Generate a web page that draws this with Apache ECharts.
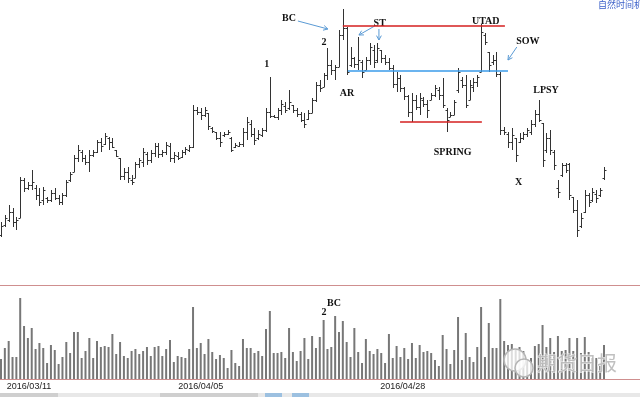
<!DOCTYPE html>
<html>
<head>
<meta charset="utf-8">
<script src="https://cdn.jsdelivr.net/npm/echarts@6/dist/echarts.min.js"></script>
<style>
html, body { margin: 0; padding: 0; background: #fff; }
#chart { width: 640px; height: 397px; }
</style>
</head>
<body>
<div id="chart"></div>
<script>
// price bars (one entry per bar, index = bar number)
var opens = [
  15, 25, 30, 38, 28, 32, 70, 62, 65, 62,
  55, 50, 52, 50, 57, 52, 48, 55, 70, 78,
  92, 98, 92, 88, 95, 98, 108, 106, 112, 108,
  100, 92, 74, 78, 70, 72, 86, 88, 96, 90,
  97, 104, 96, 98, 104, 92, 94, 93, 98, 100,
  103, 140, 138, 135, 137, 122, 118, 112, 115, 116,
  112, 103, 104, 106, 118, 126, 116, 112, 115, 120,
  138, 134, 133, 140, 144, 142, 145, 140, 136, 130,
  131, 137, 150, 165, 163, 175, 185, 180, 183, 215,
  222, 185, 192, 186, 188, 180, 190, 200, 190, 200,
  192, 188, 182, 166, 172, 162, 154, 138, 150, 143,
  150, 146, 150, 155, 160, 155, 140, 133, 135, 160,
  170, 165, 150, 163, 168, 178, 215, 198, 188, 190,
  176, 120, 116, 108, 112, 108, 112, 116, 118, 126,
  136, 127, 100, 112, 98, 62, 75, 85, 86, 53,
  40, 24, 38, 55, 50, 56, 55, 72
];
var highs = [
  28, 35, 45, 42, 33, 73, 72, 68, 80, 65,
  62, 63, 53, 60, 62, 55, 57, 70, 78, 95,
  105, 100, 95, 100, 100, 110, 112, 117, 113, 112,
  100, 92, 82, 83, 75, 88, 92, 102, 98, 100,
  107, 107, 100, 108, 107, 98, 98, 100, 103, 105,
  145, 143, 142, 143, 137, 123, 118, 118, 118, 120,
  113, 107, 108, 122, 133, 130, 122, 120, 122, 142,
  173, 135, 142, 150, 148, 160, 145, 142, 138, 137,
  140, 152, 168, 170, 177, 202, 190, 185, 220, 241,
  223, 203, 193, 213, 190, 193, 207, 205, 207, 200,
  195, 192, 185, 178, 175, 163, 155, 157, 155, 157,
  153, 150, 157, 165, 163, 172, 142, 138, 150, 182,
  173, 175, 170, 172, 175, 226, 217, 198, 195, 198,
  178, 123, 118, 122, 112, 117, 118, 122, 130, 140,
  150, 127, 117, 120, 100, 70, 87, 87, 87, 53,
  50, 37, 60, 57, 62, 60, 62, 83
];
var lows = [
  13, 23, 28, 23, 20, 32, 58, 60, 60, 50,
  44, 45, 47, 48, 50, 45, 45, 53, 68, 78,
  88, 88, 85, 78, 93, 97, 98, 105, 100, 102,
  93, 70, 70, 67, 65, 72, 82, 83, 85, 87,
  93, 92, 93, 95, 88, 87, 90, 92, 95, 98,
  102, 135, 130, 133, 120, 117, 110, 103, 113, 115,
  98, 102, 103, 103, 110, 113, 105, 110, 113, 118,
  132, 132, 130, 135, 137, 140, 137, 133, 128, 122,
  130, 137, 148, 158, 163, 170, 175, 170, 183, 210,
  175, 183, 182, 180, 172, 180, 185, 182, 187, 187,
  185, 180, 162, 158, 158, 150, 133, 128, 140, 135,
  143, 132, 150, 153, 150, 142, 118, 133, 135, 157,
  162, 142, 150, 158, 163, 178, 205, 178, 185, 173,
  115, 115, 102, 100, 88, 107, 110, 113, 115, 123,
  128, 83, 97, 95, 80, 52, 73, 77, 50, 37,
  13, 22, 37, 43, 48, 47, 53, 70
];
var closes = [
  24, 32, 38, 28, 30, 70, 62, 65, 68, 55,
  48, 60, 50, 57, 52, 48, 55, 68, 76, 92,
  100, 92, 88, 95, 98, 108, 104, 114, 108, 103,
  94, 74, 78, 72, 68, 86, 90, 98, 90, 97,
  104, 96, 98, 105, 92, 95, 92, 98, 101, 103,
  140, 138, 135, 140, 124, 119, 112, 108, 116, 118,
  100, 105, 106, 118, 128, 116, 110, 116, 120, 138,
  134, 133, 140, 146, 140, 148, 140, 136, 130, 126,
  137, 150, 165, 162, 175, 185, 180, 183, 215, 222,
  178, 192, 186, 190, 178, 190, 203, 188, 202, 192,
  188, 182, 166, 172, 162, 154, 138, 150, 143, 152,
  146, 140, 155, 162, 155, 145, 130, 135, 148, 178,
  165, 145, 165, 168, 173, 218, 208, 185, 190, 176,
  120, 118, 108, 115, 95, 112, 116, 120, 126, 136,
  130, 90, 112, 100, 85, 58, 85, 80, 55, 40,
  20, 32, 55, 48, 58, 52, 60, 80
];
var volumes = [
  20, 31, 38, 22, 22, 81, 53, 41, 51, 30,
  36, 31, 16, 34, 29, 15, 22, 37, 26, 47,
  47, 21, 28, 41, 21, 38, 32, 33, 32, 45,
  25, 37, 23, 21, 28, 30, 25, 28, 32, 23,
  32, 33, 23, 30, 39, 17, 23, 22, 21, 30,
  72, 31, 36, 25, 40, 27, 20, 24, 21, 11,
  29, 16, 13, 40, 31, 31, 26, 28, 23, 50,
  68, 26, 26, 27, 21, 51, 27, 18, 28, 41,
  20, 43, 31, 42, 59, 30, 32, 63, 47, 58,
  37, 22, 51, 27, 16, 40, 28, 25, 30, 26,
  16, 45, 21, 33, 22, 31, 20, 36, 21, 34,
  27, 28, 26, 19, 13, 44, 30, 15, 29, 62,
  19, 46, 22, 17, 32, 72, 22, 56, 31, 31,
  80, 38, 34, 35, 29, 32, 28, 20, 21, 33,
  35, 54, 32, 41, 27, 43, 28, 29, 41, 28,
  41, 26, 42, 27, 21, 21, 13, 34
];
var dateTicks = [7.3, 52, 104.6];
var dateLabels = ['2016/03/11', '2016/04/05', '2016/04/28'];

// wyckoff notes: [bar, price, text]
var notes = [
  [75.0, 232, 'BC'],
  [69.2, 186, '1'],
  [84.1, 208, '2'],
  [90.1, 157, 'AR'],
  [98.6, 227, 'ST'],
  [126.2, 229, 'UTAD'],
  [137.2, 209, 'SOW'],
  [141.9, 160, 'LPSY'],
  [117.6, 98, 'SPRING'],
  [134.8, 68, 'X']
];
var volNotes = [
  [84.1, 67, '2'],
  [86.7, 76, 'BC']
];
// levels: [fromBar, toBar, price, colour, width]
var levels = [
  [89.0, 131.2, 224, '#d41f1f', 1.6],
  [90.3, 132.0, 179, '#3a9bea', 1.4],
  [103.9, 125.2, 128, '#d41f1f', 1.6]
];
// arrows: [fromBar, fromPrice, toBar, toPrice]
var arrows = [
  [77.3, 229, 85.1, 221],
  [97.3, 224, 93.2, 215],
  [98.4, 221, 98.4, 210],
  [134.3, 203, 132.0, 190]
];

var ohlcData = opens.map(function (o, i) {
  return [i, o, highs[i], lows[i], closes[i]];
});
var volData = volumes.map(function (v, i) { return [i, v]; });

var noteFont = 'bold 10px "Liberation Serif", "DejaVu Serif", serif';

function renderOhlc(params, api) {
  var i = api.value(0);
  var o = api.coord([i, api.value(1)]);
  var h = api.coord([i, api.value(2)]);
  var l = api.coord([i, api.value(3)]);
  var c = api.coord([i, api.value(4)]);
  var x = Math.round(o[0]) + 0.5;
  var st = { stroke: '#333', lineWidth: 1 };
  var yo = Math.round(o[1]) + 0.5, yc = Math.round(c[1]) + 0.5;
  return {
    type: 'group',
    children: [
      { type: 'line', shape: { x1: x, y1: Math.round(h[1]), x2: x, y2: Math.round(l[1]) }, style: st },
      { type: 'line', shape: { x1: x - 2, y1: yo, x2: x, y2: yo }, style: st },
      { type: 'line', shape: { x1: x, y1: yc, x2: x + 2, y2: yc }, style: st }
    ]
  };
}

function renderNote(list) {
  return function (params, api) {
    var p = api.coord([api.value(0), api.value(1)]);
    return {
      type: 'text', x: p[0], y: p[1],
      style: { text: list[params.dataIndex][2], fill: '#111', font: noteFont, align: 'center', verticalAlign: 'middle' }
    };
  };
}

function renderLevel(params, api) {
  var a = api.coord([api.value(0), api.value(2)]);
  var b = api.coord([api.value(1), api.value(2)]);
  var lv = levels[params.dataIndex];
  var y = Math.round(a[1]);
  return {
    type: 'line',
    shape: { x1: a[0], y1: y, x2: b[0], y2: y },
    style: { stroke: lv[3], lineWidth: lv[4] },
    z2: 10
  };
}

function renderArrow(params, api) {
  var a = api.coord([api.value(0), api.value(1)]);
  var b = api.coord([api.value(2), api.value(3)]);
  var ang = Math.atan2(b[1] - a[1], b[0] - a[0]);
  var s = 5;
  var p1 = [b[0] - s * Math.cos(ang - 0.5), b[1] - s * Math.sin(ang - 0.5)];
  var p2 = [b[0] - s * Math.cos(ang + 0.5), b[1] - s * Math.sin(ang + 0.5)];
  var st = { stroke: '#5b9bd5', lineWidth: 1, fill: null };
  return {
    type: 'group',
    children: [
      { type: 'line', shape: { x1: a[0], y1: a[1], x2: b[0], y2: b[1] }, style: st },
      { type: 'polyline', shape: { points: [p1, b, p2] }, style: st }
    ]
  };
}

var chart = echarts.init(document.getElementById('chart'));
chart.setOption({
  animation: false,
  backgroundColor: '#fff',
  grid: [
    { left: 1, width: 603, top: 0, height: 250 },
    { left: 1, width: 603, top: 285, height: 94 }
  ],
  xAxis: [
    { type: 'value', gridIndex: 0, min: 0, max: 157, show: false },
    {
      type: 'value', gridIndex: 1, min: 0, max: 157,
      axisLine: { show: false }, axisTick: { show: false }, splitLine: { show: false },
      axisLabel: {
        customValues: dateTicks,
        margin: 3,
        color: '#222',
        fontSize: 9,
        fontFamily: '"Liberation Sans", Arial, sans-serif',
        formatter: function (v) {
          var k = dateTicks.indexOf(v);
          return k >= 0 ? dateLabels[k] : '';
        }
      }
    }
  ],
  yAxis: [
    { type: 'value', gridIndex: 0, min: 0, max: 250, show: false },
    { type: 'value', gridIndex: 1, min: 0, max: 94, show: false }
  ],
  series: [
    { type: 'custom', xAxisIndex: 0, yAxisIndex: 0, renderItem: renderOhlc, data: ohlcData, silent: true },
    { type: 'custom', xAxisIndex: 0, yAxisIndex: 0, renderItem: renderLevel, data: levels.map(function (l) { return [l[0], l[1], l[2]]; }), silent: true, z: 4 },
    { type: 'custom', xAxisIndex: 0, yAxisIndex: 0, renderItem: renderArrow, data: arrows, silent: true },
    { type: 'custom', xAxisIndex: 0, yAxisIndex: 0, renderItem: renderNote(notes), data: notes.map(function (n) { return [n[0], n[1]]; }), silent: true },
    {
      type: 'bar', xAxisIndex: 1, yAxisIndex: 1, data: volData, barWidth: 2,
      itemStyle: { color: '#777' }, silent: true
    },
    { type: 'custom', xAxisIndex: 1, yAxisIndex: 1, renderItem: renderNote(volNotes), data: volNotes.map(function (n) { return [n[0], n[1]]; }), silent: true, z: 5 }
  ],
  graphic: [
    { type: 'line', shape: { x1: 0, y1: 285.5, x2: 640, y2: 285.5 }, style: { stroke: '#cf8f8f', lineWidth: 1 }, z: 10 },
    { type: 'line', shape: { x1: 0, y1: 379.5, x2: 640, y2: 379.5 }, style: { stroke: '#cf8f8f', lineWidth: 1 }, z: 10 },
    { type: 'rect', shape: { x: 0, y: 393, width: 640, height: 4 }, style: { fill: '#e8e8e8' }, z: 10 },
    { type: 'rect', shape: { x: 0, y: 393, width: 58, height: 4 }, style: { fill: '#cfcfcf' }, z: 11 },
    { type: 'rect', shape: { x: 160, y: 393, width: 98, height: 4 }, style: { fill: '#cfcfcf' }, z: 11 },
    { type: 'rect', shape: { x: 265, y: 393, width: 17, height: 4 }, style: { fill: '#9cc0e0' }, z: 11 },
    { type: 'rect', shape: { x: 292, y: 393, width: 17, height: 4 }, style: { fill: '#9cc0e0' }, z: 11 },
    {
      type: 'text', x: 598, y: 5, z: 10,
      style: { text: '自然时间机器', fill: '#3a5fc8', font: '9px "Noto Sans CJK SC", sans-serif', verticalAlign: 'middle' }
    },
    { type: 'circle', shape: { cx: 515, cy: 360, r: 11 }, style: { fill: 'rgba(255,255,255,0.75)', stroke: '#b5b5b5', lineWidth: 1.5 }, z: 12 },
    { type: 'circle', shape: { cx: 524, cy: 368, r: 9 }, style: { fill: 'rgba(255,255,255,0.75)', stroke: '#b5b5b5', lineWidth: 1.5 }, z: 12 },
    {
      type: 'text', x: 577, y: 363, z: 12,
      style: {
        text: '期货日报', fill: 'rgba(185,185,185,0.9)', stroke: 'rgba(255,255,255,0.8)', lineWidth: 1,
        font: '20px "Noto Sans CJK SC", sans-serif', align: 'center', verticalAlign: 'middle'
      }
    }
  ]
});
</script>
</body>
</html>
